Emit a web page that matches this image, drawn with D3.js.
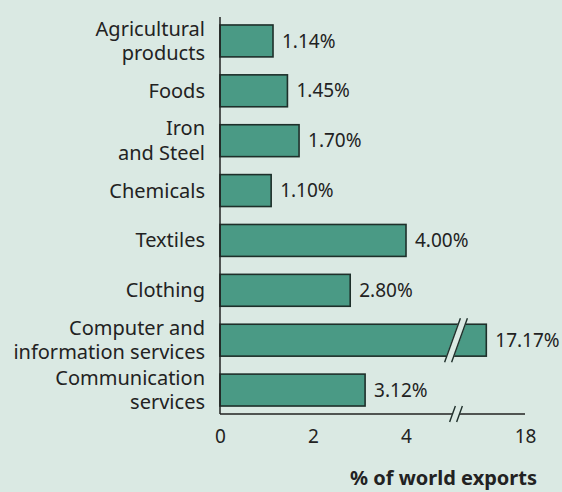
<!DOCTYPE html>
<html>
<head>
<meta charset="utf-8">
<script src="https://cdn.jsdelivr.net/npm/d3@7"></script>
<style>
  html, body { margin: 0; padding: 0; background: #dae9e3; }
  svg { display: block; font-family: "Noto Sans", "Open Sans", sans-serif; }
</style>
</head>
<body>
<svg id="chart" width="562" height="492"></svg>
<script>
// Sector labels (line-broken), values and axis ticks
const categories = [
  ["Agricultural", "products"],
  ["Foods"],
  ["Iron", "and Steel"],
  ["Chemicals"],
  ["Textiles"],
  ["Clothing"],
  ["Computer and", "information services"],
  ["Communication", "services"]
];
const values = [1.14, 1.45, 1.70, 1.10, 4.00, 2.80, 17.17, 3.12];
const tickValues = [0, 2, 4, 18];
const axisTitle = "% of world exports";

// Axis break between these two values
const breakLow = 5.075, breakHigh = 16.52;

const svg = d3.select("#chart");
const bg = "#dae9e3";
const barFill = "#4a9a85";
const ink = "#222";

svg.append("rect").attr("width", 562).attr("height", 492).attr("fill", bg);

// Piecewise linear scale with a collapsed gap at the break
const breakX = 456;
const x = d3.scaleLinear()
  .domain([0, breakLow, breakHigh, 18])
  .range([220, breakX, breakX, 525]);

const y = d3.scaleBand()
  .domain(d3.range(categories.length))
  .range([16, 415])
  .paddingInner(0.36)
  .paddingOuter(0.18);

const axisY = 414;

// Bars
svg.append("g").selectAll("rect")
  .data(values)
  .join("rect")
  .attr("x", x(0))
  .attr("y", (d, i) => y(i))
  .attr("width", d => x(d) - x(0))
  .attr("height", y.bandwidth())
  .attr("fill", barFill)
  .attr("stroke", "#1e2f2a")
  .attr("stroke-width", 1.6);

// Break marks: a pair of slashes with background between them
function breakMark(cx, cy, h) {
  const g = svg.append("g");
  const dx = h * 0.18;
  g.append("polygon")
    .attr("points", [
      [cx - 4 + dx, cy - h / 2], [cx + 4 + dx, cy - h / 2],
      [cx + 4 - dx, cy + h / 2], [cx - 4 - dx, cy + h / 2]
    ].map(p => p.join(",")).join(" "))
    .attr("fill", bg);
  [-3.5, 3.5].forEach(o => {
    g.append("line")
      .attr("x1", cx + o + dx).attr("y1", cy - h / 2)
      .attr("x2", cx + o - dx).attr("y2", cy + h / 2)
      .attr("stroke", "#1e2f2a").attr("stroke-width", 1.4);
  });
}

// Value labels
svg.append("g").selectAll("text")
  .data(values)
  .join("text")
  .attr("x", d => x(d) + 9)
  .attr("y", (d, i) => y(i) + y.bandwidth() / 2)
  .attr("dy", "0.35em")
  .attr("font-size", 19)
  .attr("fill", ink)
  .text(d => d.toFixed(2) + "%");

// Category labels
const labels = svg.append("g").selectAll("text")
  .data(categories)
  .join("text")
  .attr("text-anchor", "end")
  .attr("font-size", 20)
  .attr("fill", ink);
labels.each(function (lines, i) {
  const cy = y(i) + y.bandwidth() / 2;
  const lh = 24.5;
  const t = d3.select(this);
  lines.forEach((ln, k) => {
    t.append("tspan")
      .attr("x", 205)
      .attr("y", cy + (k - (lines.length - 1) / 2) * lh)
      .attr("dy", "0.35em")
      .text(ln);
  });
});

// Vertical baseline
svg.append("line")
  .attr("x1", x(0)).attr("x2", x(0))
  .attr("y1", 17).attr("y2", axisY)
  .attr("stroke", ink).attr("stroke-width", 1.5);

// Bottom axis (line and labels only)
const xAxis = d3.axisBottom(x).tickValues(tickValues).tickSize(0).tickPadding(16).tickFormat(d3.format("d"));
const gx = svg.append("g").attr("transform", `translate(0,${axisY})`).call(xAxis);
gx.select(".domain").remove();
gx.selectAll("text").attr("font-size", 19).attr("fill", ink)
  .attr("font-family", "'Noto Sans', 'Open Sans', sans-serif");
svg.append("line")
  .attr("x1", x(0)).attr("x2", 525)
  .attr("y1", axisY).attr("y2", axisY)
  .attr("stroke", ink).attr("stroke-width", 1.5);

// Break marks on the long bar and on the axis
const longIdx = values.indexOf(d3.max(values));
breakMark(breakX, y(longIdx) + y.bandwidth() / 2, y.bandwidth() + 12);
breakMark(breakX, axisY, 16);

// Axis title
svg.append("text")
  .attr("x", 537).attr("y", 485)
  .attr("text-anchor", "end")
  .attr("font-size", 20)
  .attr("font-weight", "bold")
  .attr("fill", ink)
  .text(axisTitle);
</script>
</body>
</html>
